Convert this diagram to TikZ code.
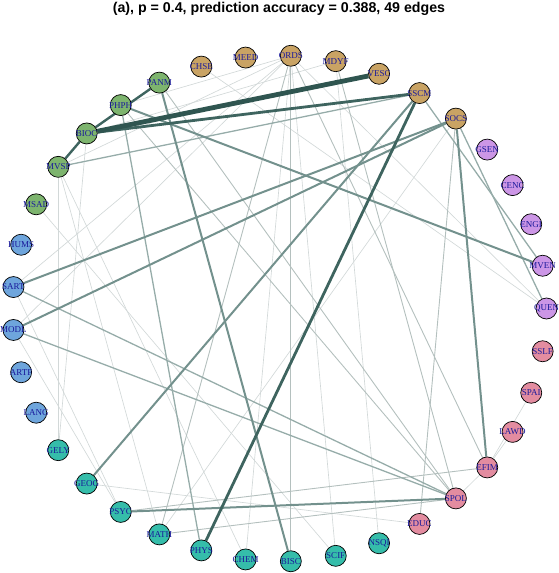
\documentclass[tikz,border=0pt]{standalone}
\usepackage{fontspec}
\setmainfont{Liberation Serif}
\newfontfamily\titlefont{Liberation Sans}
\pgfdeclarelayer{bg}
\pgfsetlayers{bg,main}
\definecolor{ctan}{RGB}{201,163,100}
\definecolor{cgrn}{RGB}{125,180,110}
\definecolor{cblu}{RGB}{110,165,220}
\definecolor{ctea}{RGB}{53,189,170}
\definecolor{cpnk}{RGB}{227,140,160}
\definecolor{cpur}{RGB}{204,150,230}
\definecolor{lbl}{RGB}{25,25,155}
\definecolor{eA}{RGB}{210,216,216}
\definecolor{eB}{RGB}{180,192,190}
\definecolor{eC}{RGB}{150,172,169}
\definecolor{eD}{RGB}{115,145,141}
\definecolor{eE}{RGB}{62,100,95}
\definecolor{eF}{RGB}{47,85,80}
\tikzset{
  vtx/.style={circle,draw=black,line width=0.7pt,minimum size=21pt,inner sep=0pt,
    font=\fontsize{9}{9}\selectfont,text=lbl},
  ea/.style={draw=eA,line width=0.65pt},
  eb/.style={draw=eB,line width=0.9pt},
  ec/.style={draw=eC,line width=1.3pt},
  ed/.style={draw=eD,line width=2pt},
  ee/.style={draw=eE,line width=2.8pt},
  ef/.style={draw=eF,line width=4.8pt},
}
\begin{document}
\begin{tikzpicture}[x=1pt,y=-1pt]
\useasboundingbox (0,0) rectangle (558,573);
\node[font=\titlefont\bfseries\fontsize{14.2}{14.2}\selectfont,inner sep=0pt] (title) at (279,8.5) {(a), p = 0.4, prediction accuracy = 0.388, 49 edges};
\foreach \n/\k/\c in {QUEN/0/cpur,MVEN/1/cpur,ENGI/2/cpur,CENC/3/cpur,GSEN/4/cpur,
  SOCS/5/ctan,SSCM/6/ctan,VESC/7/ctan,MDYF/8/ctan,ORDS/9/ctan,MEED/10/ctan,CHSE/11/ctan,
  PANM/12/cgrn,PHPH/13/cgrn,BIOC/14/cgrn,MVSP/15/cgrn,MSAD/16/cgrn,
  HUMS/17/cblu,SART/18/cblu,MODL/19/cblu,ARTF/20/cblu,LANG/21/cblu,
  GELY/22/ctea,GEOG/23/ctea,PSYC/24/ctea,MATH/25/ctea,PHYS/26/ctea,CHEM/27/ctea,BISC/28/ctea,SCIF/29/ctea,NSQI/30/ctea,
  EDUC/31/cpnk,SPOL/32/cpnk,EFIM/33/cpnk,LAWD/34/cpnk,SPAI/35/cpnk,SSLF/36/cpnk}
  {\node[vtx,fill=\c] (\n) at ({279.5+267*cos(\k*360/37)},{308.5-253*sin(\k*360/37)}) {\makebox[0pt]{\n}};}
\begin{pgfonlayer}{bg}
\foreach \a/\b in {SOCS/MATH,ORDS/CHEM,ORDS/SCIF,MDYF/NSQI,MVSP/MATH,MVSP/CHEM,MVSP/GELY,GEOG/EDUC,
  SPAI/EFIM,LAWD/EFIM,EFIM/SPOL,ORDS/PHPH,ORDS/MVSP,ORDS/QUEN,CHSE/QUEN,MDYF/BIOC,SART/ORDS,
  MODL/ORDS,GELY/BIOC,MODL/PSYC,SART/PSYC,MSAD/SCIF}
  {\draw[ea] (\a) -- (\b);}
\foreach \a/\b in {PHPH/SPOL,PANM/SPOL,ORDS/EFIM,PSYC/EFIM,SOCS/EDUC,ORDS/MATH,MATH/SPOL,MDYF/SPOL,ORDS/BISC}
  {\draw[eb] (\a) -- (\b);}
\foreach \a/\b in {MVSP/SSCM,SSCM/MVEN,SOCS/QUEN,PHPH/PHYS,SART/SPOL,MODL/SPOL}
  {\draw[ec] (\a) -- (\b);}
\foreach \a/\b in {SSCM/GEOG,SOCS/EFIM,SOCS/SART,SOCS/MODL,PHPH/MVEN,PANM/BISC,PSYC/SPOL}
  {\draw[ed] (\a) -- (\b);}
\draw[ee,line width=2.4pt] (BIOC) -- (PANM);
\draw[ee,line width=2.4pt] (MVSP) -- (BIOC);
\draw[ee] (BIOC) -- (SSCM);
\draw[ee] (SSCM) -- (PHYS);
\draw[ef] (BIOC) -- (VESC);
\end{pgfonlayer}
\end{tikzpicture}
\end{document}
